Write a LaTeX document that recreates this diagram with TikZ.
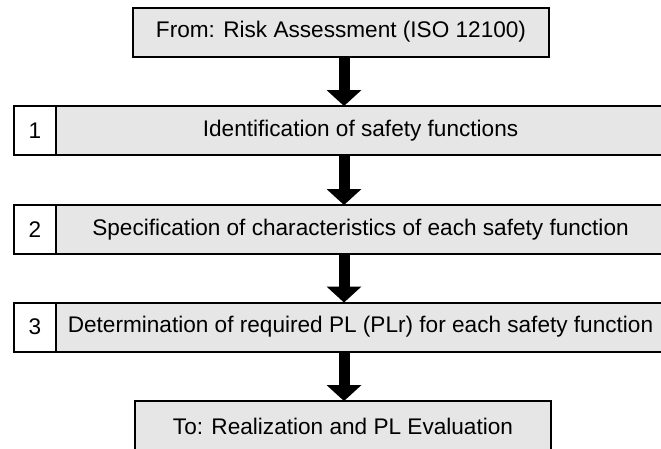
\documentclass[tikz,border=0pt]{standalone}
\usepackage{fontspec}
\setmainfont{Liberation Sans}
\usetikzlibrary{positioning,arrows.meta}

\definecolor{boxgray}{HTML}{E6E6E6}

\tikzset{
  box/.style={draw=black, line width=2pt, fill=boxgray, outer sep=0pt,
    inner sep=0pt, minimum height=49pt, font=\fontsize{22.6}{27}\selectfont},
  numbox/.style={box, fill=white, minimum width=42pt},
  stepbox/.style={box, minimum width=609pt},
  endbox/.style={box, minimum width=416pt},
  flow/.style={line width=11pt, -{Triangle[width=35pt,length=16pt,line width=0pt]}}
}

\begin{document}
\begin{tikzpicture}[x=1pt,y=-1pt]
\useasboundingbox (0,0) rectangle (661,448);
\node[endbox] (from) at (341,32) {From: Risk Assessment (ISO 12100)};
% numbered steps
\node[numbox] (n1) at (35,130.5) {1};
\node[stepbox, right=0pt of n1] (s1) {Identification of safety functions};
\node[numbox] (n2) at (35,229.5) {2};
\node[stepbox, right=0pt of n2] (s2) {Specification of characteristics of each safety function};
\node[numbox] (n3) at (35,327) {3};
\node[stepbox, right=0pt of n3] (s3) {Determination of required PL (PLr) for each safety function};
\node[endbox, minimum height=50pt] (to) at (343,426) {To: Realization and PL Evaluation};
% arrows between the boxes
\coordinate (ax) at (344,0);
\draw[flow] (ax |- from.south) -- (ax |- s1.north);
\draw[flow] (ax |- s1.south) -- (ax |- s2.north);
\draw[flow] (ax |- s2.south) -- (ax |- s3.north);
\draw[flow] (ax |- s3.south) -- (ax |- to.north);
\end{tikzpicture}
\end{document}
